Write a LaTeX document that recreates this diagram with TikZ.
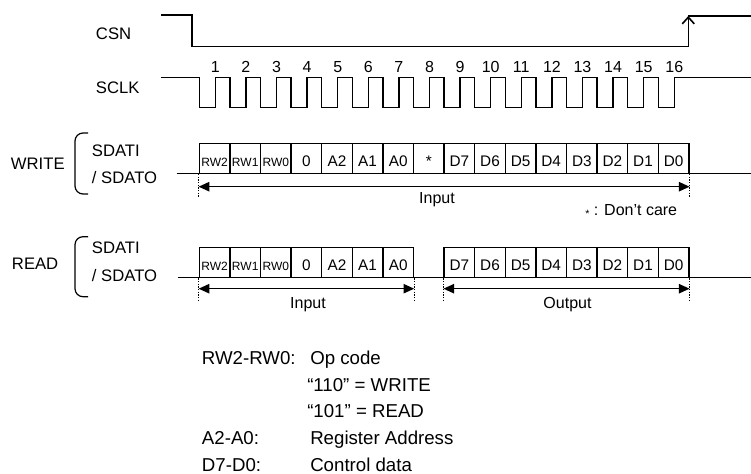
\documentclass[tikz,border=0pt]{standalone}
\usepackage{fontspec}
\setmainfont{Liberation Sans}
\usetikzlibrary{arrows.meta}
\begin{document}
\begin{tikzpicture}[x=0.75pt,y=-0.75pt,
  sig/.style={line width=1.1pt},
  box/.style={draw, line width=1pt, minimum width=22.95pt, minimum height=22.5pt,
    inner sep=0pt, text height=17.25pt, text depth=5.25pt, font=\fontsize{11.5}{13}\selectfont},
  rwbox/.style={box, font=\fontsize{9}{10}\selectfont},
  lbl/.style={anchor=base west, inner sep=0pt, font=\fontsize{12.5}{14}\selectfont},
  clbl/.style={anchor=base, inner sep=0pt, font=\fontsize{12}{14}\selectfont},
  num/.style={anchor=base, inner sep=0pt, font=\fontsize{12}{14}\selectfont},
  leg/.style={anchor=base west, inner sep=0pt, font=\fontsize{14}{16}\selectfont},
  span/.style={line width=1.1pt, {Triangle[length=8pt,width=7pt]}-{Triangle[length=8pt,width=7pt]}},
  guide/.style={line width=0.8pt, dash pattern=on 1pt off 1pt},
  brk/.style={line width=0.9pt, rounded corners=6pt}
]
\useasboundingbox (0,0) rectangle (751,474);

% ---------------- CSN ----------------
\node[lbl] (csn) at (95.7,39.3) {CSN};
\coordinate (c0) at (161,15);
\coordinate (c1) at (192,15);
\coordinate (c2) at (192,46.7);
\coordinate (c3) at (688.3,46.7);
\coordinate (c4) at (688.3,16);
\coordinate (c5) at (751,16);
\draw[sig] (c0) -- (c1) -- (c2) -- (c3);
\draw[sig,-{Straight Barb[length=5pt,width=9pt,line width=1.2pt]}] (c3) -- (c4);
\draw[sig] (c4) -- (c5);

% ---------------- SCLK ----------------
\node[lbl] (sclk) at (95.7,93.3) {SCLK};
\draw[sig] (161,77.7) -- (199.3,77.7) -- (199.3,107.7)
  foreach \k in {1,...,15}{
    -- ({199.3+(\k-1)*30.6+16},107.7) -- ({199.3+(\k-1)*30.6+16},77.7)
    -- ({199.3+\k*30.6},77.7) -- ({199.3+\k*30.6},107.7)}
  -- (674.3,107.7) -- (674.3,77.7) -- (751,77.7);
\foreach \k in {1,...,16}
  \node[num] (n\k) at ({199.3+(\k-1)*30.6+16},73) {\k};

% ---------------- WRITE ----------------
\node[lbl] (wlab) at (10.7,169.3) {WRITE};
\draw[brk] (88,133) -- (75,133) -- (75,194) -- (88,194);
\node[lbl] (wsi) at (91.7,156.7) {SDATI};
\node[lbl] (wso) at (91.7,184) {/ SDATO};
\coordinate (wl) at (176.7,173.3);
\coordinate (wr) at (751,173.3);
\draw[sig] (wl) -- (wr);
\foreach \t [count=\i] in {RW2,RW1,RW0}
  \node[rwbox] (w\i) at ({199.3+(\i-0.5)*30.6},158.3) {\t};
\foreach \t [count=\i from 4] in {0,A2,A1,A0,*,D7,D6,D5,D4,D3,D2,D1,D0}
  \node[box] (w\i) at ({199.3+(\i-0.5)*30.6},158.3) {\t};
\coordinate (wy) at (0,186.7);
\draw[guide] (w1.south west) -- ++(0,23);
\draw[guide] (w16.south east) -- ++(0,23);
\draw[span] (w1.south west |- wy) -- (w16.south east |- wy);
\node[clbl] (win) at (437,203.3) {Input};
\node[anchor=base west, inner sep=0pt, font=\fontsize{12}{14}\selectfont] (dc) at (585,216)
  {{\fontsize{8}{8}\selectfont\raisebox{-1.5pt}{*}} : Don’t care};

% ---------------- READ ----------------
\node[lbl] (rlab) at (11.7,269.3) {READ};
\draw[brk] (88,236.7) -- (75,236.7) -- (75,296.7) -- (88,296.7);
\node[lbl] (rsi) at (91.7,254) {SDATI};
\node[lbl] (rso) at (91.7,281.7) {/ SDATO};
\coordinate (rl) at (178.3,277.7);
\coordinate (rr) at (751,277.7);
\draw[sig] (rl) -- (rr);
\foreach \t [count=\i] in {RW2,RW1,RW0}
  \node[rwbox] (r\i) at ({199.3+(\i-0.5)*30.6},262.7) {\t};
\foreach \t [count=\i from 4] in {0,A2,A1,A0}
  \node[box] (r\i) at ({199.3+(\i-0.5)*30.6},262.7) {\t};
\foreach \t [count=\i from 9] in {D7,D6,D5,D4,D3,D2,D1,D0}
  \node[box] (r\i) at ({199.3+(\i-0.5)*30.6},262.7) {\t};
\coordinate (ry) at (0,288.7);
\foreach \n/\a in {r1/south west, r7/south east, r9/south west, r16/south east}
  \draw[guide] (\n.\a) -- ++(0,23);
\draw[span] (r1.south west |- ry) -- (r7.south east |- ry);
\draw[span] (r9.south west |- ry) -- (r16.south east |- ry);
\node[clbl] (rin) at (308,308.3) {Input};
\node[clbl] (rout) at (567.5,308.3) {Output};

% ---------------- Legend ----------------
\node[leg] (l1a) at (201.7,364.5) {RW2-RW0:};
\node[leg] (l1b) at (310,364.5) {Op code};
\node[leg] (l2) at (307,391.3) {“110” = WRITE};
\node[leg] (l3) at (307,418) {“101” = READ};
\node[leg] (l4a) at (201.7,444.7) {A2-A0:};
\node[leg] (l4b) at (310,444.7) {Register Address};
\node[leg] (l5a) at (201.7,471.2) {D7-D0:};
\node[leg] (l5b) at (310,471.2) {Control data};
\end{tikzpicture}
\end{document}
